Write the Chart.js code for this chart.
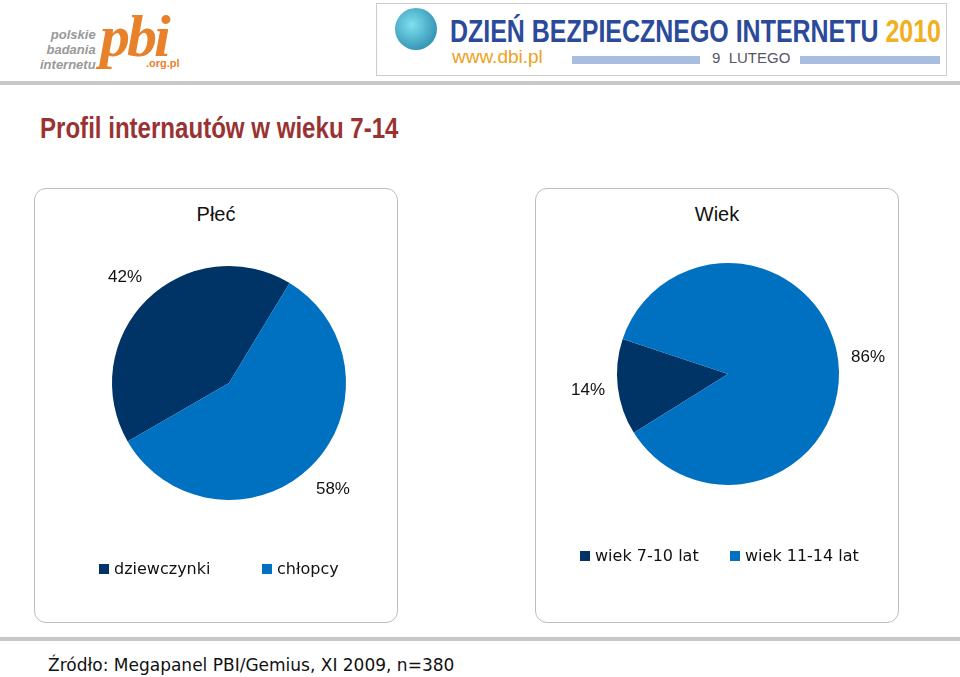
<!DOCTYPE html>
<html>
<head>
<meta charset="utf-8">
<script src="https://cdn.jsdelivr.net/npm/chart.js@4"></script>
<style>
body{margin:0;width:960px;height:677px;background:#fff;position:relative;overflow:hidden;font-family:"Liberation Sans",Arial,sans-serif}
.abs{position:absolute;white-space:nowrap}
.panel{position:absolute;top:188px;width:364px;height:435px;border:1px solid #bdbdbd;border-radius:12px;box-sizing:border-box}
.ptitle{position:absolute;top:14px;width:100%;text-align:center;font-size:20px;color:#111}
.leg{position:absolute;font-family:"DejaVu Sans",sans-serif;font-size:16px;color:#111;white-space:nowrap}
.sq{display:inline-block;width:10px;height:10px;margin-right:5px}
canvas{position:absolute;left:0;top:0}
</style>
</head>
<body>
<!-- header -->
<div class="abs" style="left:40px;top:27px;font:italic bold 13px 'Liberation Sans';color:#999;text-align:right;line-height:15px">polskie<br>badania<br>internetu</div>
<div class="abs" style="left:100px;top:2px;font:italic bold 60px 'Liberation Serif';color:#e8822a;letter-spacing:-3px">pbi</div>
<div class="abs" style="left:146px;top:57px;font:bold 11px 'Liberation Sans';color:#e8822a">.org.pl</div>
<div class="abs" style="left:376px;top:3px;width:571px;height:73px;border:1px solid #ccc;box-sizing:border-box"></div>
<div class="abs" style="left:395px;top:8px;width:42px;height:42px;border-radius:50%;background:radial-gradient(circle at 40% 40%,#7fe0f0,#1a7aa0);"></div>
<div class="abs" style="left:450px;top:13px;font:bold 32px 'Liberation Sans';color:#2b4a9a;transform:scaleX(0.78);transform-origin:left top">DZIEŃ BEZPIECZNEGO INTERNETU <span style="color:#f0b020">2010</span></div>
<div class="abs" style="left:452px;top:46px;font:19px 'Liberation Sans';color:#f0a020">www.dbi.pl</div>
<div class="abs" style="left:572px;top:56px;width:128px;height:8px;background:#a9bde0"></div>
<div class="abs" style="left:712px;top:49px;font:15px 'Liberation Sans';color:#556">9&nbsp; LUTEGO</div>
<div class="abs" style="left:800px;top:56px;width:140px;height:8px;background:#a9bde0"></div>
<div class="abs" style="left:0;top:81px;width:960px;height:4px;background:#c8c8c8"></div>

<div class="abs" style="left:40px;top:112px;font:bold 29px 'Liberation Sans';color:#993333;transform:scaleX(0.83);transform-origin:left top">Profil internautów w wieku 7-14</div>

<div class="panel" style="left:34px">
  <div class="ptitle">Płeć</div>
  <canvas id="c1" width="364" height="435"></canvas>
  <div class="leg" style="left:64px;top:370px"><span class="sq" style="background:#003366"></span>dziewczynki</div>
  <div class="leg" style="left:227px;top:370px"><span class="sq" style="background:#0070c0"></span>chłopcy</div>
</div>
<div class="panel" style="left:535px">
  <div class="ptitle">Wiek</div>
  <canvas id="c2" width="364" height="435"></canvas>
  <div class="leg" style="left:44px;top:357px"><span class="sq" style="background:#003366"></span>wiek 7-10 lat</div>
  <div class="leg" style="left:194px;top:357px"><span class="sq" style="background:#0070c0"></span>wiek 11-14 lat</div>
</div>

<div class="abs" style="left:0;top:637px;width:960px;height:4px;background:#c8c8c8"></div>
<div class="abs" style="left:48px;top:655px;font:17px 'DejaVu Sans';color:#111">Źródło: Megapanel PBI/Gemius, XI 2009, n=380</div>

<script>
// Płeć
var genderLabels = ['dziewczynki', 'chłopcy'];
var genderValues = [42, 58];
// Wiek
var ageLabels = ['wiek 7-10 lat', 'wiek 11-14 lat'];
var ageValues = [14, 86];
var colors = ['#003366', '#0070c0'];

// Percent labels outside the slices
var outLabels = {
  id: 'outLabels',
  afterDatasetsDraw: function(chart){
    var ctx = chart.ctx;
    var ds = chart.data.datasets[0];
    chart.getDatasetMeta(0).data.forEach(function(arc, i){
      var mid = (arc.startAngle + arc.endAngle) / 2;
      var r = arc.outerRadius * 1.27;
      ctx.save();
      ctx.font = '17px "Liberation Sans"';
      ctx.fillStyle = '#111';
      ctx.textAlign = 'center';
      ctx.textBaseline = 'middle';
      ctx.fillText(ds.data[i] + '%', arc.x + Math.cos(mid) * r, arc.y + Math.sin(mid) * r);
      ctx.restore();
    });
  }
};

function makePie(el, labels, values, rot, pad){
  return new Chart(el, {
    type: 'pie',
    data: { labels: labels, datasets: [{ data: values, backgroundColor: colors, borderWidth: 0 }] },
    options: {
      responsive: false,
      animation: false,
      rotation: rot,
      layout: { padding: pad },
      plugins: { legend: { display: false }, tooltip: { enabled: false } }
    },
    plugins: [outLabels]
  });
}

makePie(document.getElementById('c1'), genderLabels, genderValues, 240, {left:77, right:53, top:77, bottom:124});
makePie(document.getElementById('c2'), ageLabels, ageValues, 238, {left:81, right:61, top:74, bottom:139});
</script>
</body>
</html>
